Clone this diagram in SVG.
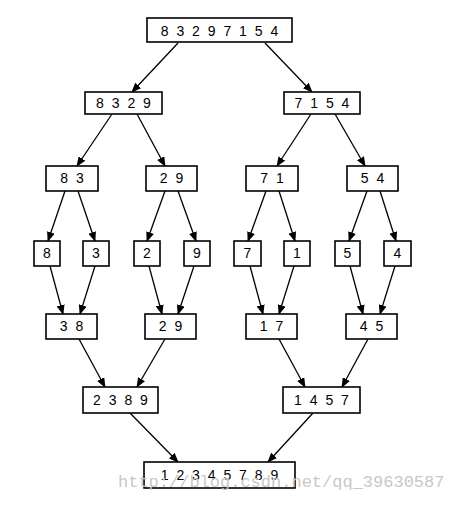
<svg xmlns="http://www.w3.org/2000/svg" width="449" height="507" viewBox="0 0 449 507">
<defs>
<marker id="ah" markerUnits="userSpaceOnUse" markerWidth="10" markerHeight="8" refX="9" refY="4" orient="auto">
<path d="M0,0 L10,4 L0,8 Z" fill="#000"/>
</marker>
<style>
.b{fill:#fff;stroke:#000;stroke-width:1.6}
.t{font-family:"Liberation Sans",Arial,sans-serif;font-size:14px;fill:#000;text-anchor:middle;letter-spacing:2px}
.c line{stroke:#000;stroke-width:1.3;marker-end:url(#ah)}
.w{font-family:"Liberation Mono",monospace;font-size:17px;fill:#c8c8c8}
</style>
</defs>
<rect width="449" height="507" fill="#fff"/>
<g class="c" id="connectors">
<line x1="178" y1="43" x2="132" y2="92"/>
<line x1="265" y1="43" x2="312" y2="92"/>
<line x1="112" y1="114" x2="77" y2="166"/>
<line x1="137" y1="114" x2="165" y2="166"/>
<line x1="311" y1="114" x2="277" y2="166"/>
<line x1="335" y1="114" x2="365" y2="166"/>
<line x1="65" y1="191" x2="48" y2="241"/>
<line x1="78" y1="191" x2="95" y2="241"/>
<line x1="165" y1="191" x2="147" y2="241"/>
<line x1="178" y1="191" x2="196" y2="241"/>
<line x1="266" y1="191" x2="248" y2="241"/>
<line x1="279" y1="191" x2="295" y2="241"/>
<line x1="367" y1="191" x2="349" y2="241"/>
<line x1="380" y1="191" x2="396" y2="241"/>
<line x1="50" y1="266" x2="63" y2="314"/>
<line x1="95" y1="266" x2="80" y2="314"/>
<line x1="149" y1="266" x2="162" y2="314"/>
<line x1="194" y1="266" x2="178" y2="314"/>
<line x1="250" y1="266" x2="263" y2="314"/>
<line x1="294" y1="266" x2="279" y2="314"/>
<line x1="350" y1="266" x2="363" y2="314"/>
<line x1="395" y1="266" x2="380" y2="314"/>
<line x1="79" y1="339" x2="105" y2="387"/>
<line x1="165" y1="339" x2="137" y2="387"/>
<line x1="279" y1="339" x2="305" y2="387"/>
<line x1="368" y1="339" x2="342" y2="387"/>
<line x1="130" y1="413" x2="178" y2="462"/>
<line x1="313" y1="413" x2="268" y2="462"/>
</g>
<g id="n0"><rect class="b" x="147" y="18" width="145" height="24"/><text class="t" x="220.5" y="36">8 3 2 9 7 1 5 4</text></g>
<g id="n1"><rect class="b" x="85" y="92" width="77" height="22"/><text class="t" x="124.5" y="108">8 3 2 9</text></g>
<g id="n2"><rect class="b" x="284" y="92" width="76" height="22"/><text class="t" x="323" y="108">7 1 5 4</text></g>
<g id="n3"><rect class="b" x="46" y="166" width="52" height="25"/><text class="t" x="73" y="183">8 3</text></g>
<g id="n4"><rect class="b" x="146" y="166" width="51" height="25"/><text class="t" x="172.5" y="183">2 9</text></g>
<g id="n5"><rect class="b" x="246" y="166" width="52" height="25"/><text class="t" x="273" y="183">7 1</text></g>
<g id="n6"><rect class="b" x="347" y="166" width="51" height="25"/><text class="t" x="373.5" y="183">5 4</text></g>
<g id="n7"><rect class="b" x="34" y="241" width="26" height="25"/><text class="t" x="48" y="258">8</text></g>
<g id="n8"><rect class="b" x="83" y="241" width="26" height="25"/><text class="t" x="97" y="258">3</text></g>
<g id="n9"><rect class="b" x="134" y="241" width="26" height="25"/><text class="t" x="148" y="258">2</text></g>
<g id="n10"><rect class="b" x="184" y="241" width="26" height="25"/><text class="t" x="198" y="258">9</text></g>
<g id="n11"><rect class="b" x="234" y="241" width="27" height="25"/><text class="t" x="248.5" y="258">7</text></g>
<g id="n12"><rect class="b" x="284" y="241" width="26" height="25"/><text class="t" x="298" y="258">1</text></g>
<g id="n13"><rect class="b" x="335" y="241" width="25" height="25"/><text class="t" x="348.5" y="258">5</text></g>
<g id="n14"><rect class="b" x="384" y="241" width="27" height="25"/><text class="t" x="398.5" y="258">4</text></g>
<g id="n15"><rect class="b" x="46" y="314" width="51" height="25"/><text class="t" x="72.5" y="331">3 8</text></g>
<g id="n16"><rect class="b" x="145" y="314" width="51" height="25"/><text class="t" x="171.5" y="331">2 9</text></g>
<g id="n17"><rect class="b" x="246" y="314" width="51" height="25"/><text class="t" x="272.5" y="331">1 7</text></g>
<g id="n18"><rect class="b" x="346" y="314" width="51" height="25"/><text class="t" x="372.5" y="331">4 5</text></g>
<g id="n19"><rect class="b" x="83" y="387" width="75" height="26"/><text class="t" x="121.5" y="405">2 3 8 9</text></g>
<g id="n20"><rect class="b" x="283" y="387" width="77" height="26"/><text class="t" x="322.5" y="405">1 4 5 7</text></g>
<g id="n21"><rect class="b" x="144" y="462" width="151" height="26"/><text class="t" x="220.5" y="480">1 2 3 4 5 7 8 9</text></g>
<text class="w" x="118" y="487">http://blog.csdn.net/qq_39630587</text>
</svg>
